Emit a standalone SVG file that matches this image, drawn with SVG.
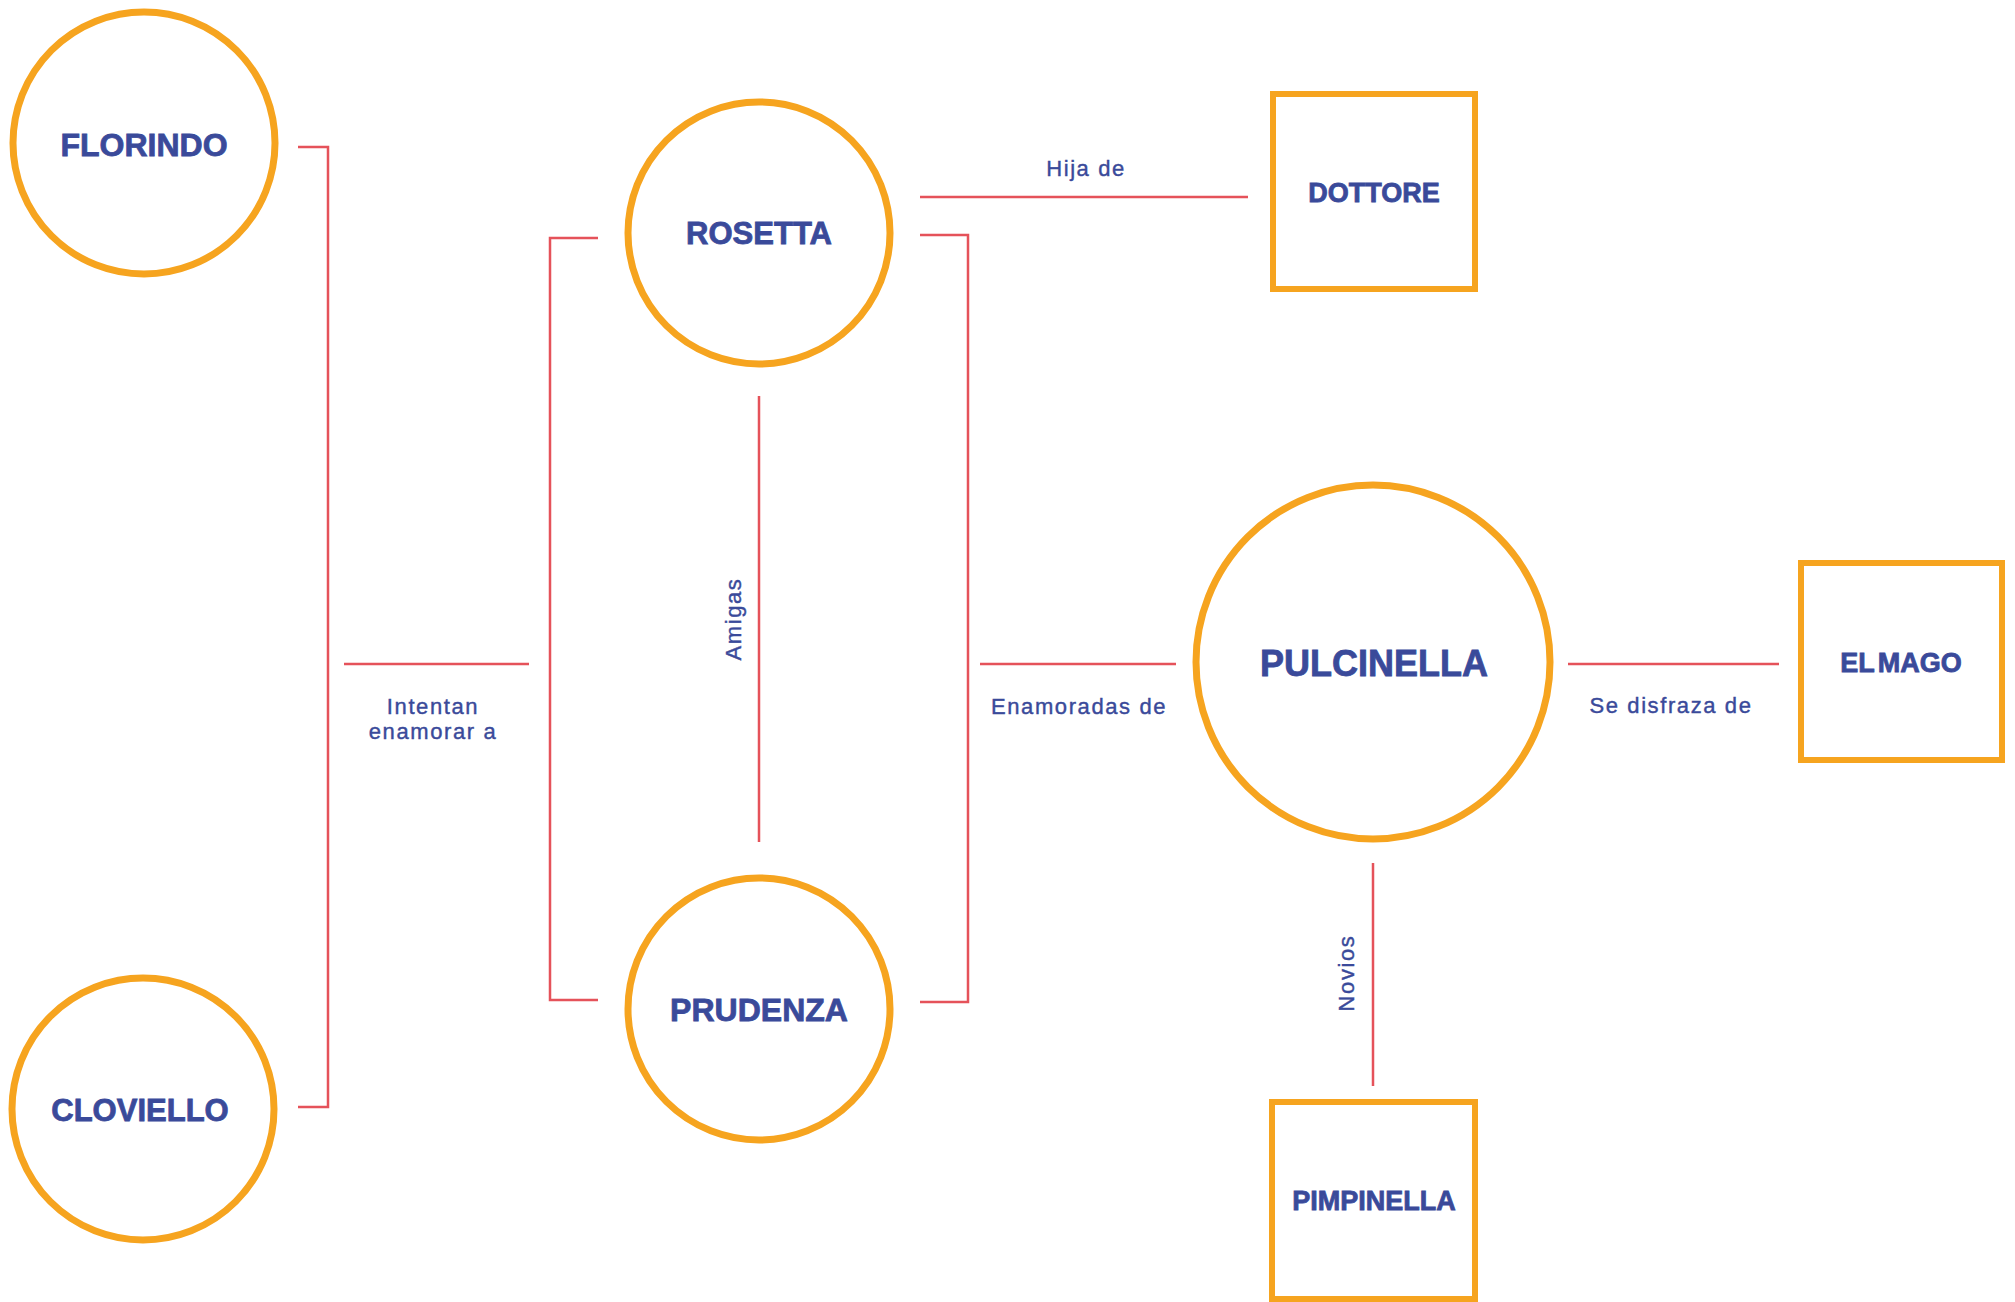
<svg xmlns="http://www.w3.org/2000/svg" width="2015" height="1302" viewBox="0 0 2015 1302">
<style>
.node{fill:#fff;stroke:#F6A41F;stroke-width:7}
.box{fill:#fff;stroke:#F6A41F;stroke-width:6}
.name{font-family:"Liberation Sans",Arial,sans-serif;font-weight:bold;fill:#3A4A9A;stroke:#3A4A9A;stroke-width:0.8;text-anchor:middle}
.lbl{font-family:"Liberation Sans",Arial,sans-serif;font-size:22px;fill:#3A4A9A;stroke:#3A4A9A;stroke-width:0.4;text-anchor:middle;letter-spacing:1.6px}
.edge{fill:none;stroke:#E5525A;stroke-width:2.5}
</style>
<rect width="2015" height="1302" fill="#fff"/>
<g id="connectors">
<polyline class="edge" points="298,147 328,147 328,1107 298,1107"/>
<line class="edge" x1="344" y1="664" x2="529" y2="664" stroke-width="3"/>
<polyline class="edge" points="598,238 550,238 550,1000 598,1000"/>
<line class="edge" x1="759" y1="396" x2="759" y2="842"/>
<polyline class="edge" points="920,235 968,235 968,1002 920,1002"/>
<line class="edge" x1="980" y1="664" x2="1176" y2="664" stroke-width="3"/>
<line class="edge" x1="920" y1="197" x2="1248" y2="197" stroke-width="3"/>
<line class="edge" x1="1568" y1="664" x2="1779" y2="664" stroke-width="3"/>
<line class="edge" x1="1373" y1="863" x2="1373" y2="1086"/>
<text class="lbl" x="433" y="714">Intentan</text>
<text class="lbl" x="433" y="739">enamorar a</text>
<text class="lbl" x="1079" y="714">Enamoradas de</text>
<text class="lbl" x="1086" y="176">Hija de</text>
<text class="lbl" x="1671" y="713">Se disfraza de</text>
<text class="lbl" transform="translate(741,619) rotate(-90)">Amigas</text>
<text class="lbl" transform="translate(1354,973) rotate(-90)">Novios</text>
</g>
<g id="florindo"><circle class="node" cx="144" cy="143" r="131"/><text class="name" x="144" y="156" font-size="32">FLORINDO</text></g>
<g id="cloviello"><circle class="node" cx="143" cy="1109" r="131"/><text class="name" x="140" y="1121" font-size="31">CLOVIELLO</text></g>
<g id="rosetta"><circle class="node" cx="759" cy="233" r="131"/><text class="name" x="759" y="244" font-size="31">ROSETTA</text></g>
<g id="prudenza"><circle class="node" cx="759" cy="1009" r="131"/><text class="name" x="759" y="1021" font-size="32">PRUDENZA</text></g>
<g id="pulcinella"><circle class="node" cx="1373" cy="662" r="177"/><text class="name" x="1374" y="676" font-size="36">PULCINELLA</text></g>
<g id="dottore"><rect class="box" x="1273" y="94" width="202" height="195"/><text class="name" x="1374" y="202" font-size="27">DOTTORE</text></g>
<g id="elmago"><rect class="box" x="1801" y="563" width="201" height="197"/><text class="name" x="1901" y="672" font-size="27" word-spacing="-4">EL MAGO</text></g>
<g id="pimpinella"><rect class="box" x="1272" y="1102" width="203" height="197"/><text class="name" x="1374" y="1210" font-size="27">PIMPINELLA</text></g>
</svg>
